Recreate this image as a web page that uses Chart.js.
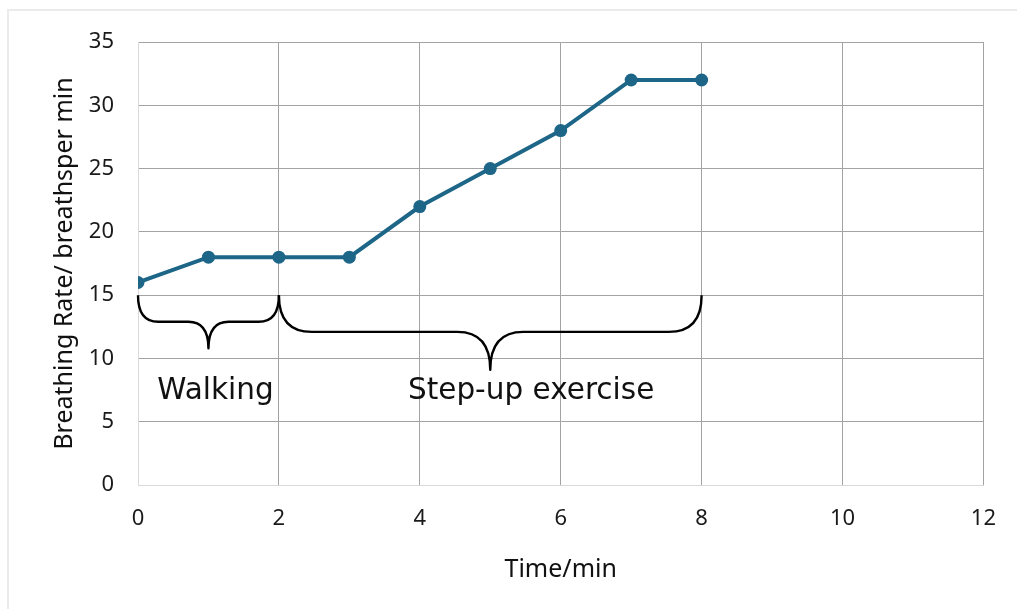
<!DOCTYPE html>
<html>
<head>
<meta charset="utf-8">
<script src="https://cdn.jsdelivr.net/npm/chart.js@4.4.1/dist/chart.umd.min.js"></script>
<style>
    html, body { margin: 0; padding: 0; background: #fff; overflow: hidden; }
    #wrap { position: relative; width: 1017px; height: 609px; }
    #frame {
        position: absolute; left: 7px; top: 9px; right: -10px; bottom: -10px;
        border-left: 2px solid #ebebeb; border-top: 2px solid #ebebeb;
    }
    #chart { position: absolute; left: 0; top: 0; }
</style>
</head>
<body>
<div id="wrap">
    <div id="frame"></div>
    <canvas id="chart" width="1017" height="609"></canvas>
</div>
<script>
// measured values
const timeMin = [0, 1, 2, 3, 4, 5, 6, 7, 8];
const breathRate = [16, 18, 18, 18, 22, 25, 28, 32, 32];

// curly brackets under the line (data coords)
const braceLabels = ["Walking", "Step-up exercise"];
const braceStart = [0, 2];
const braceEnd = [2, 8];
const braceTipX = [1, 5];
const braceTopY = [15, 15];
const braceBarY = [12.9, 12.1];
const braceTipY = [10.8, 9.1];
const labelX = [1.1, 5.58];
const labelY = [6.8, 6.8];

const lineColor = "#1d6688";
const gridDark = "#a3a3a3";
const gridLight = "#d9d9d9";

// draws the braces and their text through the chart scales
const bracePlugin = {
    id: "braces",
    afterDatasetsDraw(chart) {
        const ctx = chart.ctx;
        const xs = chart.scales.x;
        const ys = chart.scales.y;
        ctx.save();
        ctx.strokeStyle = "#000";
        ctx.lineWidth = 2.4;
        ctx.lineJoin = "round";
        for (let i = 0; i < braceLabels.length; i++) {
            const x0 = xs.getPixelForValue(braceStart[i]);
            const x1 = xs.getPixelForValue(braceEnd[i]);
            const xm = xs.getPixelForValue(braceTipX[i]);
            const yt = ys.getPixelForValue(braceTopY[i]);
            const yb = ys.getPixelForValue(braceBarY[i]);
            const yp = ys.getPixelForValue(braceTipY[i]);
            const r = Math.min(33, (x1 - x0) / 7);
            ctx.beginPath();
            ctx.moveTo(x0, yt);
            ctx.quadraticCurveTo(x0, yb, x0 + r, yb);
            ctx.lineTo(xm - r, yb);
            ctx.quadraticCurveTo(xm, yb, xm, yp);
            ctx.quadraticCurveTo(xm, yb, xm + r, yb);
            ctx.lineTo(x1 - r, yb);
            ctx.quadraticCurveTo(x1, yb, x1, yt);
            ctx.stroke();

            ctx.fillStyle = "#111";
            ctx.font = "29.5px 'DejaVu Sans'";
            ctx.textAlign = "center";
            ctx.textBaseline = "alphabetic";
            ctx.fillText(braceLabels[i], xs.getPixelForValue(labelX[i]), ys.getPixelForValue(labelY[i]));
        }
        ctx.restore();
    },
};

const points = timeMin.map((t, i) => ({ x: t, y: breathRate[i] }));

new Chart(document.getElementById("chart"), {
    type: "line",
    data: {
        datasets: [
            {
                data: points,
                borderColor: lineColor,
                backgroundColor: lineColor,
                borderWidth: 4,
                pointRadius: 6.5,
                pointBackgroundColor: lineColor,
                pointBorderWidth: 0,
                tension: 0,
            },
        ],
    },
    options: {
        responsive: false,
        animation: false,
        layout: { padding: { left: 0, top: 42, right: 33, bottom: 0 } },
        plugins: {
            legend: { display: false },
            tooltip: { enabled: false },
        },
        scales: {
            x: {
                type: "linear",
                min: 0,
                max: 12,
                afterFit: (s) => { s.height = 124; },
                ticks: {
                    stepSize: 2,
                    padding: 21,
                    color: "#1a1a1a",
                    font: { family: "'Noto Sans'", size: 22 },
                },
                grid: {
                    drawTicks: false,
                    color: (c) => (c.tick && c.tick.value === 0 ? gridLight : gridDark),
                },
                border: { color: gridLight },
                title: {
                    display: true,
                    text: "Time/min",
                    color: "#111",
                    font: { family: "'Noto Sans'", size: 25 },
                    padding: { top: 0, bottom: 24 },
                },
            },
            y: {
                min: 0,
                max: 35,
                afterFit: (s) => { s.width = 138; },
                ticks: {
                    stepSize: 5,
                    padding: 24,
                    color: "#1a1a1a",
                    font: { family: "'Noto Sans'", size: 22 },
                },
                grid: {
                    drawTicks: false,
                    color: (c) => (c.tick && c.tick.value === 0 ? gridLight : gridDark),
                },
                border: { color: gridLight },
                title: {
                    display: true,
                    text: "Breathing Rate/ breathsper min",
                    color: "#111",
                    font: { family: "'Noto Sans'", size: 25 },
                    padding: { top: 50, bottom: 0 },
                },
            },
        },
    },
    plugins: [bracePlugin],
});
</script>
</body>
</html>
